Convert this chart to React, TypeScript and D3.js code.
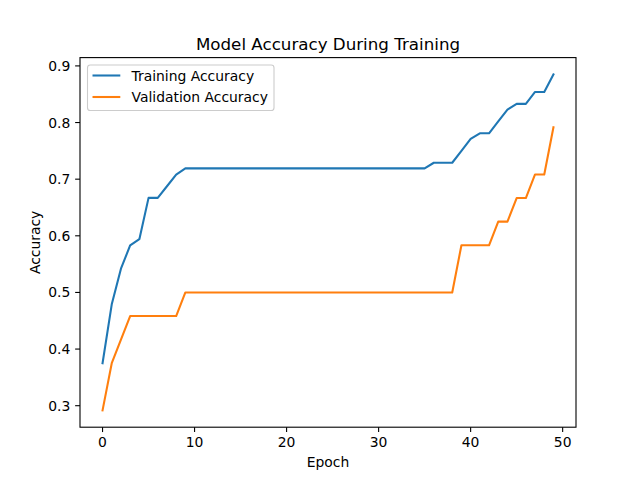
import React, { useEffect, useRef } from 'react';
import * as d3 from 'd3';

// Accuracy per epoch
const trainingAccuracy = [
  0.375, 0.479, 0.542, 0.583, 0.594, 0.667, 0.667, 0.6875, 0.708, 0.719,
  0.719, 0.719, 0.719, 0.719, 0.719, 0.719, 0.719, 0.719, 0.719, 0.719,
  0.719, 0.719, 0.719, 0.719, 0.719, 0.719, 0.719, 0.719, 0.719, 0.719,
  0.719, 0.719, 0.719, 0.719, 0.719, 0.719, 0.729, 0.729, 0.729, 0.75,
  0.771, 0.781, 0.781, 0.802, 0.823, 0.833, 0.833, 0.854, 0.854, 0.885
];

const validationAccuracy = [
  0.2917, 0.375, 0.4167, 0.4583, 0.4583, 0.4583, 0.4583, 0.4583, 0.4583, 0.5,
  0.5, 0.5, 0.5, 0.5, 0.5, 0.5, 0.5, 0.5, 0.5, 0.5,
  0.5, 0.5, 0.5, 0.5, 0.5, 0.5, 0.5, 0.5, 0.5, 0.5,
  0.5, 0.5, 0.5, 0.5, 0.5, 0.5, 0.5, 0.5, 0.5, 0.5833,
  0.5833, 0.5833, 0.5833, 0.625, 0.625, 0.6667, 0.6667, 0.7083, 0.7083, 0.7917
];

const seriesNames = ['Training Accuracy', 'Validation Accuracy'];
const seriesColors = ['#1f77b4', '#ff7f0e'];
const xTicks = [0, 10, 20, 30, 40, 50];
const yTicks = [0.3, 0.4, 0.5, 0.6, 0.7, 0.8, 0.9];

const FONT = 'DejaVu Sans, sans-serif';

const App: React.FC = () => {
  const svgRef = useRef<SVGSVGElement>(null);

  useEffect(() => {
    if (!svgRef.current) return;
    const svg = d3.select(svgRef.current);
    svg.selectAll('*').remove();

    const width = 640;
    const height = 480;
    const left = 80, right = 576, top = 57.6, bottom = 427.2;

    const series = [trainingAccuracy, validationAccuracy];
    const n = trainingAccuracy.length;
    const all = series.flat();
    const yMin = d3.min(all) as number;
    const yMax = d3.max(all) as number;
    const yPad = (yMax - yMin) * 0.05;
    const xPad = (n - 1) * 0.05;

    const x = d3.scaleLinear().domain([-xPad, n - 1 + xPad]).range([left, right]);
    const y = d3.scaleLinear().domain([yMin - yPad, yMax + yPad]).range([bottom, top]);

    svg.attr('width', width).attr('height', height);
    svg.append('rect').attr('width', width).attr('height', height).attr('fill', '#fff');

    // Lines
    const line = d3.line<number>()
      .x((_, i) => x(i))
      .y(d => y(d));

    series.forEach((s, k) => {
      svg.append('path')
        .datum(s)
        .attr('fill', 'none')
        .attr('stroke', seriesColors[k])
        .attr('stroke-width', 2.08)
        .attr('stroke-linejoin', 'round')
        .attr('stroke-linecap', 'square')
        .attr('d', line);
    });

    // Axes frame
    svg.append('rect')
      .attr('x', left).attr('y', top)
      .attr('width', right - left).attr('height', bottom - top)
      .attr('fill', 'none').attr('stroke', '#000').attr('stroke-width', 1.1);

    const tickLen = 4.86;

    // X ticks
    const xg = svg.append('g');
    xTicks.forEach(t => {
      xg.append('line')
        .attr('x1', x(t)).attr('x2', x(t))
        .attr('y1', bottom).attr('y2', bottom + tickLen)
        .attr('stroke', '#000').attr('stroke-width', 1.1);
      xg.append('text')
        .attr('x', x(t)).attr('y', bottom + 19.5)
        .attr('text-anchor', 'middle')
        .style('font-family', FONT).style('font-size', '13.9px')
        .text(t);
    });

    // Y ticks
    const yg = svg.append('g');
    yTicks.forEach(t => {
      yg.append('line')
        .attr('x1', left - tickLen).attr('x2', left)
        .attr('y1', y(t)).attr('y2', y(t))
        .attr('stroke', '#000').attr('stroke-width', 1.1);
      yg.append('text')
        .attr('x', left - 9.7).attr('y', y(t))
        .attr('dy', '0.36em')
        .attr('text-anchor', 'end')
        .style('font-family', FONT).style('font-size', '13.9px')
        .text(t.toFixed(1));
    });

    // Title and labels
    svg.append('text')
      .attr('x', (left + right) / 2).attr('y', 49.5)
      .attr('text-anchor', 'middle')
      .style('font-family', FONT).style('font-size', '16.7px')
      .text('Model Accuracy During Training');

    svg.append('text')
      .attr('x', (left + right) / 2).attr('y', 467)
      .attr('text-anchor', 'middle')
      .style('font-family', FONT).style('font-size', '13.9px')
      .text('Epoch');

    svg.append('text')
      .attr('transform', `translate(40,${(top + bottom) / 2}) rotate(-90)`)
      .attr('text-anchor', 'middle')
      .style('font-family', FONT).style('font-size', '13.9px')
      .text('Accuracy');

    // Legend
    const lg = svg.append('g');
    lg.append('rect')
      .attr('x', 87.5).attr('y', 65).attr('width', 186.5).attr('height', 45.5)
      .attr('rx', 2.8)
      .attr('fill', '#fff').attr('fill-opacity', 0.8)
      .attr('stroke', '#cccccc').attr('stroke-width', 1.1);
    seriesNames.forEach((name, k) => {
      const ry = 75.5 + k * 21.5;
      lg.append('line')
        .attr('x1', 92.5).attr('x2', 120.3)
        .attr('y1', ry).attr('y2', ry)
        .attr('stroke', seriesColors[k]).attr('stroke-width', 2.08);
      lg.append('text')
        .attr('x', 131.5).attr('y', ry)
        .attr('dy', '0.36em')
        .style('font-family', FONT).style('font-size', '13.9px')
        .text(name);
    });
  }, []);

  return <svg ref={svgRef} style={{ position: 'absolute', left: 0, top: 0 }} />;
};

export default App;
